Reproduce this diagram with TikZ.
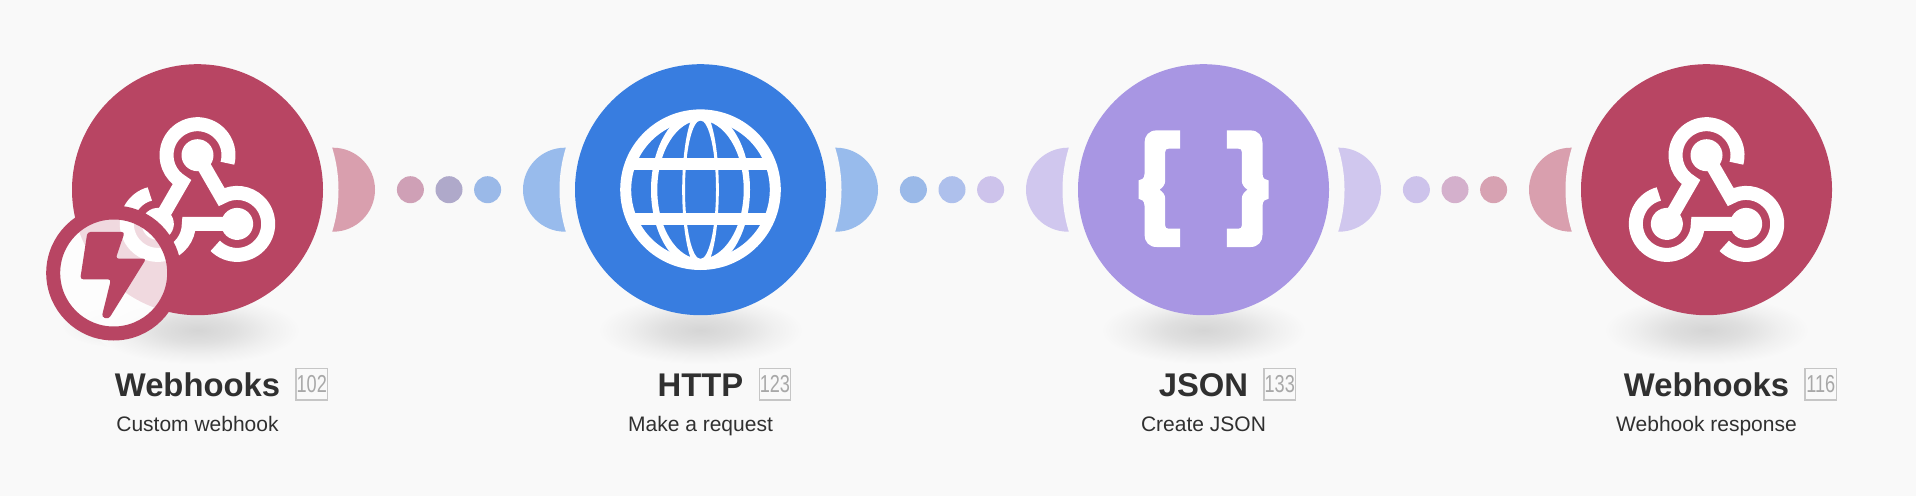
\documentclass[tikz,border=0pt]{standalone}
\usepackage{fontspec}
\usepackage{tikz}
\usetikzlibrary{positioning}
\setmainfont{Liberation Sans}
\newfontfamily\countfont[FakeStretch=0.74]{Liberation Sans}

\definecolor{pagebg}{HTML}{F9F9F9}
\definecolor{hookrose}{HTML}{B84563}
\definecolor{httpblue}{HTML}{387DE0}
\definecolor{jsonlilac}{HTML}{A896E3}
\definecolor{labelgray}{HTML}{303030}
\definecolor{countgray}{HTML}{A8A8A8}
\definecolor{countline}{HTML}{C6C6C6}
\definecolor{dotrose}{HTML}{CFA0B6}
\definecolor{dotplum}{HTML}{AFA9CA}
\definecolor{dotblue}{HTML}{9AB9E8}
\definecolor{dotsky}{HTML}{AEC0EC}
\definecolor{dotlilac}{HTML}{CDC3EB}
\definecolor{dotmauve}{HTML}{D4B0CC}
\definecolor{dotpink}{HTML}{D7A2B2}

\pgfdeclareradialshading{modshadow}{\pgfpointorigin}{%
  rgb(0bp)=(0.835,0.835,0.835);rgb(9bp)=(0.875,0.875,0.875);rgb(18bp)=(0.94,0.94,0.94);%
  rgb(25bp)=(0.976,0.976,0.976);rgb(50bp)=(0.976,0.976,0.976)}

\tikzset{
  modnode/.style={circle, inner sep=0pt, outer sep=0pt, minimum size=251pt},
  portnode/.style={circle, inner sep=0pt, outer sep=0pt, minimum size=84pt},
  dotnode/.style={circle, inner sep=0pt, outer sep=0pt, minimum size=27pt},
  modtitle/.style={inner sep=0pt, text=labelgray, text height=25.4pt, text depth=0pt,
    font=\fontsize{32.8}{36}\selectfont\bfseries},
  modsub/.style={inner sep=0pt, text=labelgray, text height=16pt, text depth=5pt,
    font=\fontsize{21}{24}\selectfont},
  countbox/.style={draw=countline, line width=1.3pt, inner sep=0pt, minimum size=31.5pt,
    text=countgray, font=\fontsize{24.5}{26}\countfont},
}

\newcommand{\hookicon}[1]{%
  \foreach \a in {0,120,240}{
    \begin{scope}[shift={(#1)}, yshift=-11.3pt, rotate=\a]
      \fill[white] (90:45.8) circle (16);
      \draw[white, line width=14pt] (90:45.8) ++(-15:31) arc (-15:240:31) -- (210:45.8);
    \end{scope}
  }}

\newcommand{\globeicon}[1]{%
  \begin{scope}[shift={(#1)}]
    \draw[white, line width=11pt] (0,0) circle (74.8);
    \clip (0,0) circle (74.8);
    \draw[white, line width=11.7pt] (-75,25.5) -- (75,25.5);
    \draw[white, line width=11.7pt] (-75,-29.6) -- (75,-29.6);
    \fill[white, even odd rule] (0,0) ellipse (49.5 and 79.6) (0,0) ellipse (43.2 and 69.3);
    \fill[white, even odd rule] (0,0) ellipse (18.3 and 81.4) (0,0) ellipse (15.5 and 69.3);
  \end{scope}}

\newcommand{\braceicon}[1]{%
  \foreach \s in {1,-1}{
    \begin{scope}[shift={(#1)}, xscale=\s]
      \fill[white] (-23.3,59.3) -- (-47,59.3) .. controls (-54.5,59.3) and (-59,54) .. (-59,47)
        -- (-59,16) .. controls (-59,11) and (-62,9.5) .. (-65,9.3) -- (-65,-9)
        .. controls (-62,-9.5) and (-59,-11) .. (-59,-16) -- (-59,-45)
        .. controls (-59,-52) and (-54.5,-57.3) .. (-47,-57.3) -- (-23.3,-57.3) -- (-23.3,-39)
        -- (-35,-39) .. controls (-37.3,-39) and (-38.3,-38) .. (-38.3,-35.7) -- (-38.3,-9)
        .. controls (-38.3,-5) and (-41,-2) .. (-44,0) .. controls (-41,2) and (-38.3,5) .. (-38.3,9)
        -- (-38.3,37.7) .. controls (-38.3,40) and (-37.3,41) .. (-35,41) -- (-23.3,41) -- cycle;
    \end{scope}
  }}

\begin{document}
\begin{tikzpicture}[x=1pt, y=1pt]

\useasboundingbox (0,0) rectangle (1916,496);
\fill[pagebg] (0,0) rectangle (1916,496);

\node[portnode, fill=hookrose!50!pagebg] (hookout) at (333,306.3) {};
\node[portnode, fill=httpblue!50!pagebg] (httpin) at (565,306.3) {};
\node[portnode, fill=httpblue!50!pagebg] (httpout) at (836,306.3) {};
\node[portnode, fill=jsonlilac!50!pagebg] (jsonin) at (1068,306.3) {};
\node[portnode, fill=jsonlilac!50!pagebg] (jsonout) at (1339,306.3) {};
\node[portnode, fill=hookrose!50!pagebg] (replyin) at (1571,306.3) {};

\foreach \x in {197.5,700.5,1203.5,1706.5}
  \fill[pagebg] (\x,306.3) circle (141);

\shade[shading=modshadow, opacity=0.6] (118,171) ellipse (56 and 22);
\foreach \x in {197.5,700.5,1203.5,1706.5}
  \shade[shading=modshadow] (\x,166) ellipse (102 and 34);

\node[dotnode, fill=dotrose] (dota) at (410.4,306.3) {};
\node[dotnode, right=11.6pt of dota, fill=dotplum] (dotb) {};
\node[dotnode, right=11.6pt of dotb, fill=dotblue] (dotc) {};

\node[dotnode, fill=dotblue] (dotd) at (913.4,306.3) {};
\node[dotnode, right=11.6pt of dotd, fill=dotsky] (dote) {};
\node[dotnode, right=11.6pt of dote, fill=dotlilac] (dotf) {};

\node[dotnode, fill=dotlilac] (dotg) at (1416.4,306.3) {};
\node[dotnode, right=11.6pt of dotg, fill=dotmauve] (doth) {};
\node[dotnode, right=11.6pt of doth, fill=dotpink] (doti) {};

\node[modnode, fill=hookrose] (hooks) at (197.5,306.3) {};
\node[modnode, fill=httpblue] (http) at (700.5,306.3) {};
\node[modnode, fill=jsonlilac] (json) at (1203.5,306.3) {};
\node[modnode, fill=hookrose] (reply) at (1706.5,306.3) {};

\hookicon{hooks}
\globeicon{http}
\braceicon{json}
\hookicon{reply}

\node[circle, inner sep=0pt, outer sep=0pt, minimum size=121pt, fill=white, fill opacity=0.8] (badgeface) at (113.7,223) {};
\node[circle, inner sep=0pt, outer sep=0pt, minimum size=121pt, draw=hookrose, line width=14pt] (badge) at (badgeface) {};
\begin{scope}[shift={(badge)}]
\fill[hookrose, rounded corners=3pt] (-26.3,41) -- (11,41) -- (2,14.3) -- (32.5,14.3)
  -- (-5,-46) -- (-12,-44) -- (-2.7,-6.3) -- (-33.5,-6.3) -- cycle;
\end{scope}

\node[modtitle, below=56.1pt of hooks] (hookstitle) {Webhooks};
\node[modtitle, below=56.1pt of http] (httptitle) {HTTP};
\node[modtitle, below=56.1pt of json] (jsontitle) {JSON};
\node[modtitle, below=56.1pt of reply] (replytitle) {Webhooks};

\node[modsub, below=18.3pt of hookstitle] (hookssub) {Custom webhook};
\node[modsub, below=18.3pt of httptitle] (httpsub) {Make a request};
\node[modsub, below=18.3pt of jsontitle] (jsonsub) {Create JSON};
\node[modsub, below=18.3pt of replytitle] (replysub) {Webhook response};

\node[countbox, right=15pt of hookstitle] (hookscount) {102};
\node[countbox, right=15pt of httptitle] (httpcount) {123};
\node[countbox, right=15pt of jsontitle] (jsoncount) {133};
\node[countbox, right=15pt of replytitle] (replycount) {116};

\end{tikzpicture}
\end{document}
